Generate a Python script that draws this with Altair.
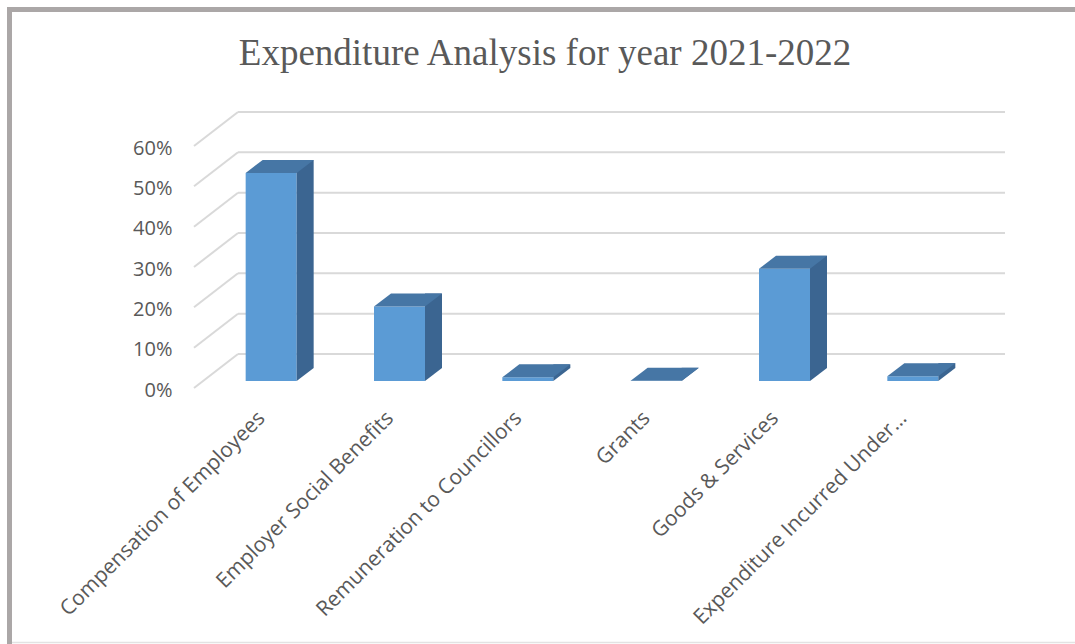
import altair as alt
import pandas as pd

# ---- data ----
categories = [
    "Compensation of Employees",
    "Employer Social Benefits",
    "Remuneration to Councillors",
    "Grants",
    "Goods & Services",
    "Expenditure Incurred Under…",
]
shares = [0.516, 0.185, 0.009, 0.0005, 0.278, 0.012]
tick_values = [0.0, 0.1, 0.2, 0.3, 0.4, 0.5, 0.6]
title_text = "Expenditure Analysis for year 2021-2022"

# ---- layout / style constants ----
W, H = 770, 242
LEFT, TOP = 196, 146
FLOOR_DX, FLOOR_DY = 44, 34
BAR_W, BAR_DX, BAR_DY = 51, 17, 13
SHIFT_X, SHIFT_Y = 11, 7
FRONT = "#5B9BD5"
TOPC = "#4676A5"
SIDE = "#3B6591"
GRID = "#D9D9D9"
TEXT = "#595959"
FRAME = "#ABA7A7"

bars = pd.DataFrame({"cat": categories, "share": shares, "zero": [0.0] * len(shares)})
ticks = pd.DataFrame({"t": tick_values})
one = pd.DataFrame({"k": [0]})

xscale = alt.Scale(domain=categories, paddingInner=0, paddingOuter=0)
yscale = alt.Scale(domain=[0, 0.6], nice=False, zero=True)

x_axis = alt.Axis(
    labelAngle=-45, domain=False, ticks=False, tickSize=0, grid=False,
    labelPadding=19, labelOffset=-6, labelFont="Open Sans", labelFontSize=21,
    labelColor=TEXT, labelLimit=500, title=None, labelAlign="right",
    labelBaseline="top",
)
y_axis = alt.Axis(
    values=tick_values, format=".0%", domain=False, ticks=False, tickSize=0,
    grid=False, labelPadding=24, labelOffset=2, labelFont="Open Sans",
    labelFontSize=20, labelColor=TEXT, title=None,
)

X = alt.X("cat:N", sort=categories, scale=xscale, axis=x_axis)


def Yq(field):
    return alt.Y(field, scale=yscale, axis=y_axis)


# gridlines on the back wall
grid_back = alt.Chart(ticks).mark_rule(color=GRID, strokeWidth=2, yOffset=-FLOOR_DY).encode(
    x=alt.value(FLOOR_DX - 2), x2=alt.value(W + 39),
    y=Yq("t:Q"),
)
# diagonal part of gridlines on the side wall
grid_diag = alt.Chart(ticks).mark_rule(color=GRID, strokeWidth=2, y2Offset=-FLOOR_DY).encode(
    x=alt.value(-2), x2=alt.value(FLOOR_DX - 2),
    y=Yq("t:Q"),
    y2="t:Q",
)

front = alt.Chart(bars).mark_bar(
    color=FRONT, size=BAR_W, xOffset=SHIFT_X, yOffset=-SHIFT_Y, y2Offset=-SHIFT_Y
).encode(
    x=X,
    y=Yq("share:Q"),
    y2="zero:Q",
)

side = alt.Chart(bars).mark_bar(
    color=SIDE, size=BAR_DX,
    xOffset=SHIFT_X + BAR_W / 2 + BAR_DX / 2,
    yOffset=-SHIFT_Y - BAR_DY, y2Offset=-SHIFT_Y - BAR_DY,
).encode(
    x=X,
    y=Yq("share:Q"),
    y2="zero:Q",
)

tri_path = "M0,{a}L0,0L1,{a}Z".format(a=round(-BAR_DY / BAR_DX, 4))
tri = alt.Chart(bars).mark_point(
    shape=tri_path, size=(2 * BAR_DX) ** 2, filled=True, opacity=1,
    color=SIDE, strokeWidth=0,
    xOffset=SHIFT_X + BAR_W / 2, yOffset=-SHIFT_Y,
).encode(
    x=X,
    y=Yq("zero:Q"),
)

half = (BAR_W + BAR_DX) / 2
hy = round(BAR_DY / 2 / half, 4)
hx = round((BAR_W - BAR_DX) / 2 / half, 4)
top_path = f"M-1,{hy}L{hx},{hy}L1,{-hy}L{-hx},{-hy}Z"
topface = alt.Chart(bars).mark_point(
    shape=top_path, size=(2 * half) ** 2, filled=True, opacity=1,
    color=TOPC, strokeWidth=0,
    xOffset=SHIFT_X + BAR_DX / 2, yOffset=-SHIFT_Y - BAR_DY / 2,
).encode(
    x=X,
    y=Yq("share:Q"),
)

# picture frame (decoration)
frame_top = alt.Chart(one).mark_rule(color=FRAME, strokeWidth=5).encode(
    x=alt.value(7 - LEFT), x2=alt.value(1075 - LEFT), y=alt.value(9.5 - TOP)
)
frame_left = alt.Chart(one).mark_rule(color=FRAME, strokeWidth=5).encode(
    x=alt.value(9.5 - LEFT), y=alt.value(7 - TOP), y2=alt.value(644 - TOP)
)
frame_bottom = alt.Chart(one).mark_rule(color="#E3E3E3", strokeWidth=1.5).encode(
    x=alt.value(12 - LEFT), x2=alt.value(1075 - LEFT), y=alt.value(642.5 - TOP)
)

chart = alt.layer(
    grid_back, grid_diag, front, side, tri, topface, frame_top, frame_left, frame_bottom
).properties(
    width=W, height=H,
    background="white",
    autosize=alt.AutoSizeParams(type="none"),
    padding={"left": LEFT, "top": TOP, "right": 1075 - LEFT - W, "bottom": 644 - TOP - H},
    title=alt.TitleParams(
        text=title_text, font="Liberation Serif", fontSize=37, fontWeight="normal",
        color=TEXT, anchor="middle", frame="group", dx=-36, offset=-97,
        baseline="alphabetic",
    ),
).configure_view(strokeWidth=0, stroke="transparent")

chart.save("out.html", embed_options={"renderer": "svg", "actions": False})
